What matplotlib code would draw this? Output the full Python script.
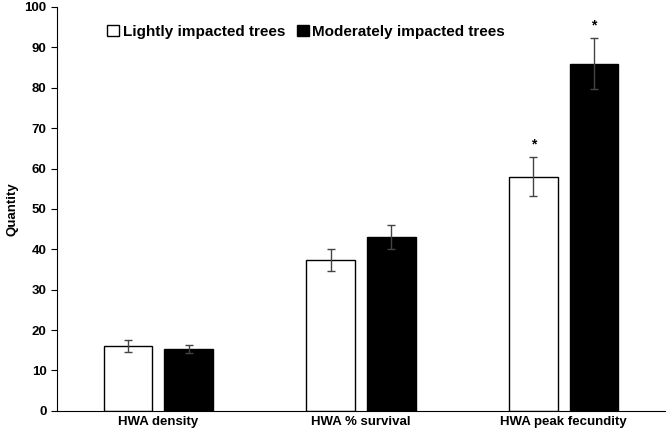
import matplotlib
matplotlib.use("Agg")
import matplotlib.pyplot as plt
import numpy as np

categories = ["HWA density", "HWA % survival", "HWA peak fecundity"]
light = [16.0, 37.3, 58.0]
light_err = [1.5, 2.8, 4.8]
moderate = [15.2, 43.0, 86.0]
moderate_err = [1.0, 3.0, 6.3]
labels = ["Lightly impacted trees", "Moderately impacted trees"]

plt.rcParams['font.family'] = ['Liberation Sans', 'DejaVu Sans']
plt.rcParams['font.weight'] = 'bold'
fig = plt.figure(figsize=(6.71, 4.37), dpi=100)
ax = fig.add_axes([0.085, 0.06, 0.906, 0.924])
x = np.arange(len(categories))
w = 0.24
ax.bar(x - 0.15, light, w, color='white', edgecolor='black', linewidth=1, yerr=light_err,
       error_kw=dict(ecolor='#444444', capsize=3, elinewidth=1), label=labels[0])
ax.bar(x + 0.15, moderate, w, color='black', edgecolor='black', linewidth=1, yerr=moderate_err,
       error_kw=dict(ecolor='#444444', capsize=3, elinewidth=1), label=labels[1])
for xi, v, e in [(x[2] - 0.15, light[2], light_err[2]), (x[2] + 0.15, moderate[2], moderate_err[2])]:
    ax.text(xi, v + e + 1.5, "*", ha='center', va='bottom', fontsize=10, fontweight='bold')
ax.set_xlim(-0.5, 2.5)
ax.set_ylim(0, 100)
ax.set_yticks(range(0, 101, 10))
ax.set_xticks(x)
ax.set_xticklabels(categories, fontsize=9.5, fontweight='bold')
ax.tick_params(axis='y', labelsize=9.5, direction='out', length=4)
ax.tick_params(axis='x', length=0)
for t in ax.get_yticklabels():
    t.set_fontweight('bold')
ax.set_ylabel("Quantity", fontsize=9.5, fontweight='bold')
for s in ['top', 'right']:
    ax.spines[s].set_visible(False)
ax.legend(loc='upper left', bbox_to_anchor=(0.06, 0.99), ncol=2, frameon=False, fontsize=11,
          handlelength=0.8, handleheight=0.8, handletextpad=0.2, columnspacing=0.8)
fig.savefig("out.png", dpi=100)
